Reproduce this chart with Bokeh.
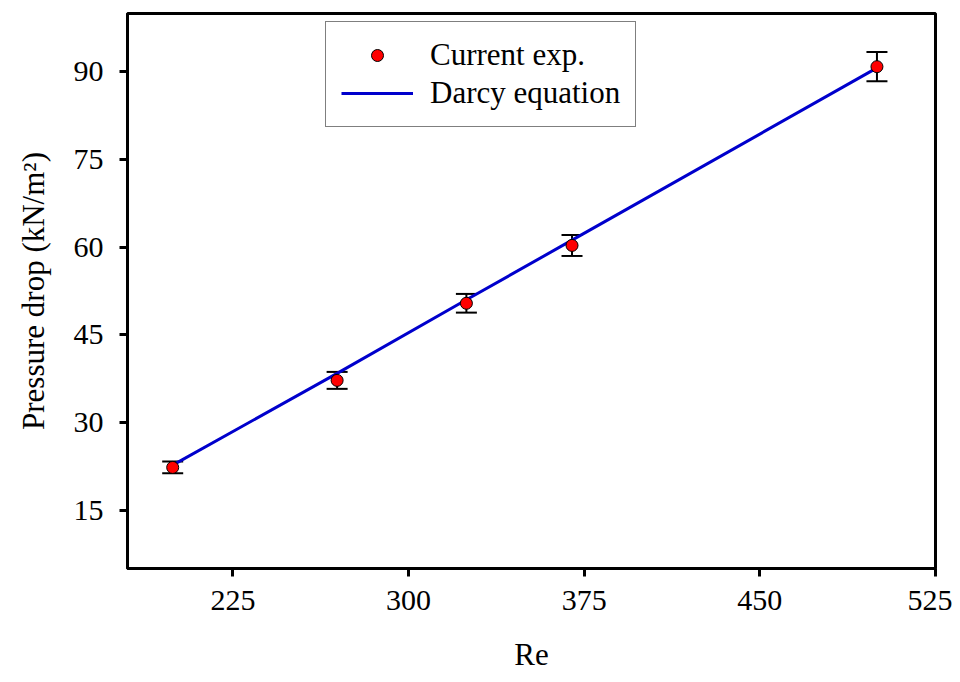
from bokeh.plotting import figure
from bokeh.models import (Range1d, Whisker, TeeHead, ColumnDataSource, Legend,
                          LegendItem, FixedTicker)
from bokeh.embed import file_html
from bokeh.resources import INLINE

# ---- data ----
re_vals = [199.3, 269.5, 324.7, 369.8, 500.0]
dp_exp = [22.3, 37.2, 50.4, 60.3, 90.9]
dp_err = [1.0, 1.45, 1.6, 1.8, 2.5]
dp_darcy = [22.7, 38.4, 51.0, 61.2, 90.7]
x_ticks = [225, 300, 375, 450, 525]
y_ticks = [15, 30, 45, 60, 75, 90]

FONT = "Liberation Serif"

src = ColumnDataSource(dict(
    re=re_vals, dp=dp_exp, dp_darcy=dp_darcy,
    upper=[v + e for v, e in zip(dp_exp, dp_err)],
    lower=[v - e for v, e in zip(dp_exp, dp_err)],
))

p = figure(width=952, height=674, output_backend="svg", toolbar_location=None,
           x_range=Range1d(180, 525), y_range=Range1d(5, 100))
p.min_border_left = 127
p.min_border_right = 17
p.min_border_top = 13
p.min_border_bottom = 102
p.background_fill_color = "white"
p.border_fill_color = "white"
p.outline_line_color = "black"
p.outline_line_width = 3
p.grid.visible = False

for ax in (p.xaxis[0], p.yaxis[0]):
    ax.axis_line_width = 3
    ax.axis_line_color = "black"
    ax.major_tick_line_width = 3
    ax.major_tick_out = 8
    ax.major_tick_in = 0
    ax.minor_tick_line_color = None
    ax.major_label_text_font = FONT
    ax.major_label_text_font_size = "30px"
    ax.major_label_text_color = "black"
    ax.axis_label_text_font = FONT
    ax.axis_label_text_font_size = "31px"
    ax.axis_label_text_font_style = "normal"
    ax.axis_label_text_color = "black"

p.xaxis.ticker = FixedTicker(ticks=x_ticks)
p.yaxis.ticker = FixedTicker(ticks=y_ticks)
p.xaxis.axis_label = "Re"
p.yaxis.axis_label = "Pressure drop (kN/m²)"
p.xaxis.major_label_standoff = 14
p.yaxis.major_label_standoff = 16
p.xaxis.axis_label_standoff = 24
p.yaxis.axis_label_standoff = 20

line_r = p.line("re", "dp_darcy", source=src, line_color="#0000cc", line_width=3)

whisk = Whisker(base="re", upper="upper", lower="lower", source=src,
                line_color="black", line_width=2,
                upper_head=TeeHead(size=21, line_width=2, line_color="black"),
                lower_head=TeeHead(size=21, line_width=2, line_color="black"))
p.add_layout(whisk)

pts = p.scatter("re", "dp", source=src, size=12, fill_color="red",
                line_color="black", line_width=1)

legend = Legend(items=[LegendItem(label="Current exp.", renderers=[pts]),
                       LegendItem(label="Darcy equation", renderers=[line_r])],
                location=(198, 441))
legend.label_text_font = FONT
legend.label_text_font_size = "31px"
legend.label_text_color = "black"
legend.glyph_width = 72
legend.glyph_height = 30
legend.label_height = 30
legend.label_standoff = 17
legend.spacing = 2
legend.padding = 15
legend.margin = 0
legend.border_line_color = "black"
legend.border_line_width = 1.5
legend.background_fill_color = "white"
legend.background_fill_alpha = 1
p.add_layout(legend, "center")

open("out.html", "w").write(file_html(p, INLINE))
